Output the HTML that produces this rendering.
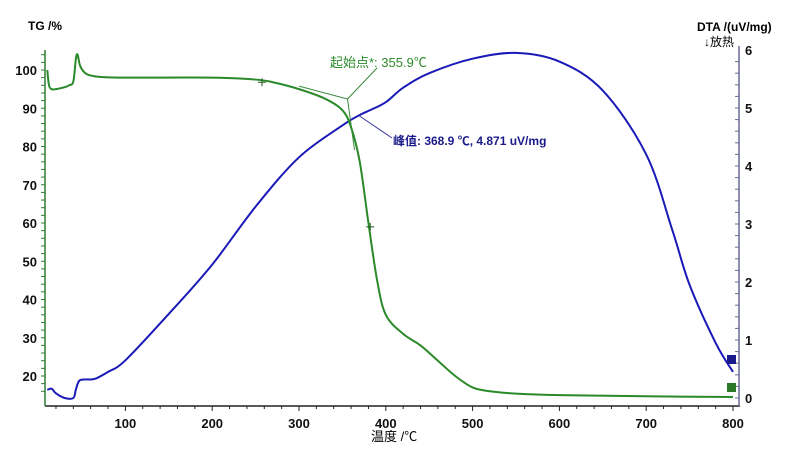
<!DOCTYPE html>
<html><head><meta charset="utf-8"><style>
body{margin:0;background:#fff;}
svg{display:block;font-family:"Liberation Sans","Noto Sans CJK SC",sans-serif;}
.tk{font-size:13px;font-weight:bold;fill:#111;}
</style></head><body>
<svg id="c" width="800" height="458"></svg>
<script>
const tgTemps=[10,12,15,20,30,35,40,43,45,48,55,70,100,200,250,270,300,330,350,360,370,380,390,400,420,440,460,480,500,520,550,600,700,800];
const tgValues=[100,96,95,95,95.5,96,97,103,104,101,99,98.2,98,98,97.5,96.8,95,92.5,89.5,85,76,60,45,36,31,28,24,20,17,16,15.4,15,14.7,14.5];
const dtaTemps=[10,15,20,30,40,43,47,55,65,80,100,150,200,250,300,350,368.9,380,400,420,450,500,550,600,650,700,730,750,780,800];
const dtaValues=[0.14,0.16,0.08,0.0,0.0,0.15,0.3,0.32,0.33,0.45,0.65,1.45,2.3,3.3,4.15,4.7,4.871,4.95,5.1,5.35,5.6,5.85,5.95,5.8,5.3,4.2,2.9,1.95,0.95,0.45];
const xTicks=[100,200,300,400,500,600,700,800];
const tgTicks=[20,30,40,50,60,70,80,90,100];
const dtaTicks=[0,1,2,3,4,5,6];
const onset=[355.9], peakT=[368.9], peakV=[4.871];

const X=t=>733-(800-t)*0.868;
const YT=v=>70+(100-v)*3.825;
const YD=v=>398-v*58;
const s=document.getElementById('c');
const NS='http://www.w3.org/2000/svg';
function mk(tag,a,p){const e=document.createElementNS(NS,tag);for(const k in a)e.setAttribute(k,a[k]);(p||s).appendChild(e);return e;}
function smooth(pts){let d='M'+pts[0][0]+','+pts[0][1];
 for(let i=0;i<pts.length-1;i++){const p0=pts[Math.max(i-1,0)],p1=pts[i],p2=pts[i+1],p3=pts[Math.min(i+2,pts.length-1)];
 const c1=[p1[0]+(p2[0]-p0[0])/6,p1[1]+(p2[1]-p0[1])/6],c2=[p2[0]-(p3[0]-p1[0])/6,p2[1]-(p3[1]-p1[1])/6];
 d+=` C${c1[0]},${c1[1]} ${c2[0]},${c2[1]} ${p2[0]},${p2[1]}`;}return d;}

let e;
e=mk('line',{x1:45,y1:406,x2:740,y2:406,stroke:'#222','stroke-width':1.5});


e=mk('line',{x1:45,y1:50,x2:45,y2:406,stroke:'#2e7d32','stroke-width':1.5});


e=mk('line',{x1:739,y1:46,x2:739,y2:406,stroke:'#6a6a9a','stroke-width':1.5});


for(let t=20;t<=800;t+=20){mk('line',{x1:X(t),y1:406,x2:X(t),y2:t%100==0?411:409,stroke:'#222'});}
xTicks.forEach(t=>{e=mk('text',{x:X(t),y:428,'text-anchor':'middle',class:'tk'});e.textContent=t;

});
for(let v=16;v<=104;v+=2){mk('line',{x1:41,y1:YT(v),x2:45,y2:YT(v),stroke:'#2e7d32'});}
tgTicks.forEach(v=>{e=mk('text',{x:37,y:YT(v)+5,'text-anchor':'end',class:'tk'});e.textContent=v;

});
for(let v=0;v<=6;v+=0.2){mk('line',{x1:735,y1:YD(v),x2:739,y2:YD(v),stroke:'#6a6a9a'});}
dtaTicks.forEach(v=>{e=mk('text',{x:745,y:YD(v)+5,class:'tk'});e.textContent=v;

});
e=mk('text',{x:28,y:30,style:'font-size:12px;font-weight:bold'});e.textContent='TG /%';


e=mk('text',{x:697,y:31,style:'font-size:12px;font-weight:bold'});e.textContent='DTA /(uV/mg)';


e=mk('text',{x:704,y:46,style:'font-size:12px'});e.textContent='↓放热';


e=mk('text',{x:371,y:441,style:'font-size:13px'});e.textContent='温度 /℃';



e=mk('path',{d:smooth(dtaTemps.map((t,i)=>[X(t),YD(dtaValues[i])])),fill:'none',stroke:'#1a1ab8','stroke-width':2});


e=mk('path',{d:smooth(tgTemps.map((t,i)=>[X(t),YT(tgValues[i])])),fill:'none',stroke:'#2a8a2a','stroke-width':2});



const ox=X(onset[0]);
mk('polyline',{points:`${X(300)},${YT(95)-3} ${ox},99 ${ox+7},150`,fill:'none',stroke:'#3a8a3a','stroke-width':1});
mk('line',{x1:ox,y1:99,x2:377,y2:68,stroke:'#3a8a3a','stroke-width':1});
e=mk('text',{x:330,y:67,style:'font-size:13px',fill:'#2a8a2a'});e.textContent='起始点*: 355.9℃';


[[262,YT(96.8)],[X(382),YT(59)]].forEach(p=>{mk('path',{d:`M${p[0]-4},${p[1]}h8M${p[0]},${p[1]-4}v8`,stroke:'#1a5a1a'});});
const px=X(peakT[0]),py=YD(peakV[0]);
mk('line',{x1:px,y1:py,x2:392,y2:138,stroke:'#3a3a9a','stroke-width':1});
e=mk('text',{x:393,y:145,style:'font-size:12px;font-weight:bold',fill:'#1a1a8a'});e.textContent='峰值: 368.9 ℃, 4.871 uV/mg';


e=mk('rect',{x:727,y:355,width:9,height:9,fill:'#1a1a8a'});


e=mk('rect',{x:727,y:383,width:9,height:9,fill:'#2a7a2a'});


</script>
</body></html>
